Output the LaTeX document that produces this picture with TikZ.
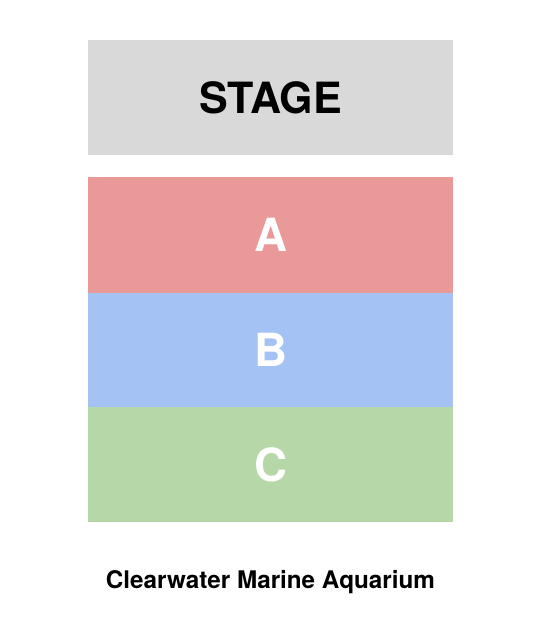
\documentclass[tikz,border=0pt]{standalone}
\usepackage{fontspec}
\setmainfont{TeX Gyre Heros}
\definecolor{stagegray}{HTML}{D9D9D9}
\definecolor{seatred}{HTML}{EA9999}
\definecolor{seatblue}{HTML}{A4C2F4}
\definecolor{seatgreen}{HTML}{B6D7A8}
\tikzset{
	block/.style={rectangle, inner sep=0pt, outer sep=0pt, minimum width=7.30cm},
	seclabel/.style={text=white, font=\fontsize{26}{30}\selectfont\bfseries}
}

\begin{document}
\begin{tikzpicture}
	\useasboundingbox (0.00, 0.00) rectangle (10.68, -12.86);
	\coordinate (ST) at (5.41, -1.95); % stage centre
	\coordinate (CA) at (5.41, -4.70); % section A centre
	\coordinate (CB) at (5.41, -7.00); % section B centre
	\coordinate (CC) at (5.41, -9.29); % section C centre
	\coordinate (TT) at (5.41, -11.64); % title

	\node[block, fill=stagegray, minimum height=2.30cm, font=\fontsize{24.5}{28}\selectfont\bfseries] (stage) at (ST) {STAGE};

	\node[block, fill=seatred, minimum height=2.32cm, seclabel] (secA) at (CA) {A};
	\node[block, fill=seatblue, minimum height=2.28cm, seclabel] (secB) at (CB) {B};
	\node[block, fill=seatgreen, minimum height=2.30cm, seclabel] (secC) at (CC) {C};

	\node[font=\fontsize{13.8}{16}\selectfont\bfseries] (title) at (TT) {Clearwater Marine Aquarium};
\end{tikzpicture}
\end{document}
